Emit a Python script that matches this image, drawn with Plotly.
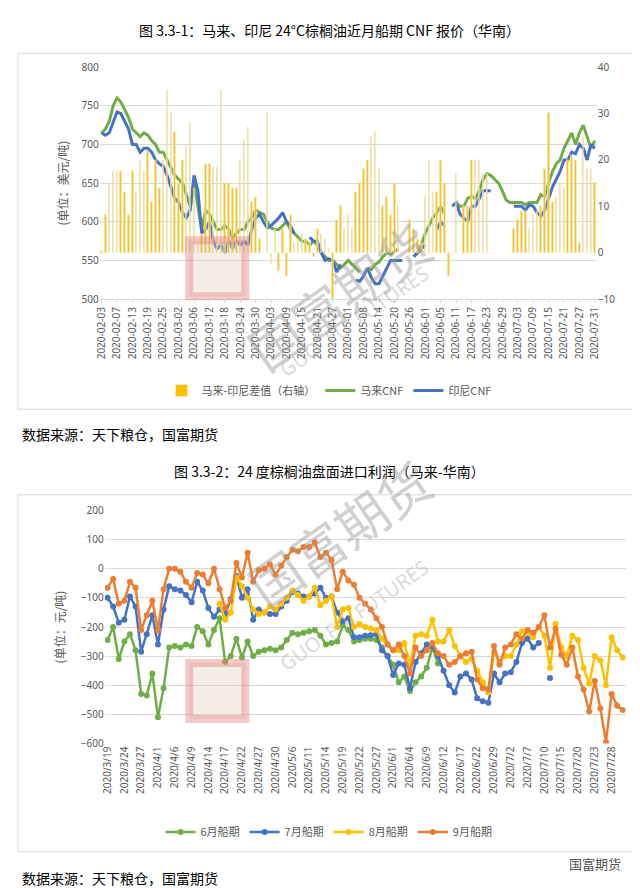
import plotly.graph_objects as go

# ---- chart 1: CNF quotes ----
dates1 = ['2020-02-03', '2020-02-07', '2020-02-13', '2020-02-19', '2020-02-25', '2020-03-02', '2020-03-06',
          '2020-03-12', '2020-03-18', '2020-03-24', '2020-03-30', '2020-04-03', '2020-04-09', '2020-04-15',
          '2020-04-21', '2020-04-27', '2020-05-01', '2020-05-08', '2020-05-14', '2020-05-20', '2020-05-26',
          '2020-06-01', '2020-06-05', '2020-06-11', '2020-06-17', '2020-06-23', '2020-06-29', '2020-07-03',
          '2020-07-09', '2020-07-15', '2020-07-21', '2020-07-27', '2020-07-31']
N = None
my_cnf = [715, 720, 730, 750, 760, 755, 745, 735, 720, 715,
          710, 715, 712, 705, 700, 690, 690, 680, 670, 660,
          655, 650, 635, 620, 650, 620, 590, 615, 610, 600,
          590, 590, 595, 590, 580, 585, 590, 590, 600, 605,
          615, 612, 610, 600, 592, 590, 590, 595, 600, 590,
          585, 580, 575, 575, 570, 575, 570, 560, 555, 550,
          550, 545, 540, 545, 550, 545, 540, 535, N, 540,
          538, 545, 548, 555, 560, 558, 562, 565, N, N,
          N, 555, 560, 570, 585, 595, 605, 612, 620, 610,
          N, N, 625, 620, 620, 630, 633, 630, 640, 655,
          662, 660, 655, 650, 640, 628, 625, 625, 625, 625,
          622, 625, 625, 625, 635, 632, 650, 665, 675, 680,
          695, 705, 715, 700, 715, 725, 710, 695, 705]
id_cnf = [715, 712, 715, 730, 742, 740, 730, 720, 700, 700,
          690, 695, 695, 690, 680, 675, 672, 660, 645, 630,
          625, 612, 605, 615, 660, 640, 585, 590, 600, 575,
          565, 570, 560, 575, 565, 575, 570, 575, 570, 590,
          605, 610, 600, 592, 595, 600, 605, 612, 600, 595,
          585, N, N, N, 580, 575, 575, 560, 550, 552,
          550, 535, 545, N, N, N, 525, 523, 530, 540,
          528, 520, 520, 530, 540, 550, 550, 550, 550, N,
          N, 555, 560, 565, 570, N, N, 590, 600, 595,
          N, 620, 625, 610, 605, 600, 620, 620, 630, 640,
          640, 640, N, N, N, N, N, 620, 620, 620,
          615, 622, 620, 612, 607, 615, 630, 645, 655, 665,
          680, 680, 690, 688, 700, 695, 680, 700, 695]
spread = [0.3, 8, 15, 17.5, 17.5, 17.5, 13, 8, 17.5, 13,
          20, 17.5, 22, 11, 20, 14, 20, 35, 30, 26,
          15, 20, 23, 28, 14, 2, 4, 19, 19, 18.5,
          18.5, 35, 15, 15, 14, 14, 20, 24, 27, 11,
          12, 3, 0, 30, -2.5, 5, -4, 5, -5, 8,
          2, 3, 4, 3, 2, -1, 5, 4, 3, 1,
          -10, 7, 10, 5, 8, 5, 13, 15, 18, 20,
          25, 26, 18, 10, 12, 8, 15, 10, 0, 0,
          7, 5, 3, 2, 12, 20, 13, 13, 20, 15,
          -5, 0, 17, 0, 10, 10, 20, 20, 20, 17,
          17, 0, 0, 0, 0, 0, 0, 5, 7, 9,
          9, 5, 8, 9, 10, 18, 30, 11, 12, 15,
          14, 20, 21, 20, 2, 25, 18, 18, 15]

# ---- chart 2: import profit ----
dates2 = ['2020/3/19', '2020/3/24', '2020/3/27', '2020/4/1', '2020/4/6', '2020/4/9', '2020/4/14', '2020/4/17',
          '2020/4/22', '2020/4/27', '2020/4/30', '2020/5/6', '2020/5/11', '2020/5/14', '2020/5/19', '2020/5/22',
          '2020/5/27', '2020/6/1', '2020/6/4', '2020/6/9', '2020/6/12', '2020/6/17', '2020/6/22', '2020/6/29',
          '2020/7/2', '2020/7/7', '2020/7/10', '2020/7/15', '2020/7/20', '2020/7/23', '2020/7/28']
jun = [-245, -200, -310, -250, -225, -280, -430, -435, -360, -510,
       -410, -270, -265, -270, -260, -265, -200, -215, -260, -210,
       -170, -320, -300, -240, -305, -250, -300, -285, -280, -275,
       -280, -270, -245, -220, -225, -220, -215, -210, -230, -260,
       -255, -250, -195, -210, -250, -245, -240, -240, -245, -270,
       -300, -330, -390, -370, -420, -390, -370, -340, -270, -325] + [N] * 33
jul = [-100, -130, -185, -175, -95, -130, -285, -225, -160, -260,
       -140, -60, -70, -75, -90, -115, -45, -75, -135, -165,
       -140, -155, -105, -25, -100, -70, -175, -140, -150, -155,
       -155, -130, -110, -80, -85, -95, -95, -85, -65, -100,
       -95, -150, -180, -170, -235, -235, -230, -228, -225, -280,
       -300, -365, -325, -330, -410, -320, -290, -260, -265, -300,
       -350, -400, -425, -370, -360, -380, -445, -455, -460, -360,
       -390, -360, -355, -320, -255, -240, -270, -255, N, -375] + [N] * 13
aug = [N] * 20 + [-120, -175, -150, -30, -60, -100, -140, -155, -150, -130,
                  -140, -120, -100, -75, -90, -110, -95, -65, -125, -110,
                  -95, -200, -140, -135, -200, -190, -200, -205, -210, -240,
                  -260, -280, -280, -255, -330, -230, -225, -230, -175, -250,
                  -250, -210, -265, -300, -320, -310, -350, -390, -425, -285,
                  -320, -300, -300, -260, -215, -220, -235, -200, -230, -340,
                  -190, -270, -300, -230, -245, -340, -395, -300, -315, -400,
                  -235, -280, -305]
sep = [-65, -35, -120, -110, -45, -65, -210, -160, -110, -210,
       -70, 0, 0, -10, -45, -65, -15, -20, -50, 0,
       -70, -135, -110, 20, -30, 55, -45, -5, 0, 15,
       -20, 10, 40, 65, 60, 75, 75, 90, 40, 55,
       30, -70, -10, -40, -55, -100, -120, -140, -170, -200,
       -260, -280, -260, -300, -360, -270, -300, -280, -255, -290,
       -300, -330, -320, -300, -290, -285, -380, -410, -415, -265,
       -330, -270, -260, -225, -240, -210, -220, -200, -160, -270,
       -205, -295, -330, -270, -370, -415, -490, -385, -480, -595,
       -430, -470, -485]

x1 = list(range(len(my_cnf)))
x2 = list(range(len(sep)))

def py(p):
    return 1 - p / 888

fig = go.Figure()
fig.add_trace(go.Bar(x=x1, y=spread, name='马来-印尼差值（右轴）', marker_color='#FFC000',
                     width=0.4, xaxis='x', yaxis='y2', legend='legend'))
fig.add_trace(go.Scatter(x=x1, y=my_cnf, name='马来CNF', mode='lines', line=dict(color='#70AD47', width=3),
                         xaxis='x', yaxis='y', legend='legend'))
fig.add_trace(go.Scatter(x=x1, y=id_cnf, name='印尼CNF', mode='lines', line=dict(color='#4472C4', width=3),
                         xaxis='x', yaxis='y', legend='legend'))

for name, vals, col in [('6月船期', jun, '#70AD47'), ('7月船期', jul, '#4472C4'),
                        ('8月船期', aug, '#FFC000'), ('9月船期', sep, '#ED7D31')]:
    fig.add_trace(go.Scatter(x=x2, y=vals, name=name, mode='lines+markers',
                             line=dict(color=col, width=2.5), marker=dict(size=6, color=col),
                             xaxis='x2', yaxis='y3', legend='legend2'))

tickf = dict(size=10, color='#595959', family='Noto Sans')
fig.update_layout(
    width=640, height=888, paper_bgcolor='white', plot_bgcolor='white',
    margin=dict(l=0, r=0, t=0, b=0), font=dict(family='Noto Sans CJK SC', color='#595959'),
    bargap=0,
    xaxis=dict(domain=[87 / 640, 592 / 640], range=[-0.5, 128.5], anchor='y',
               tickvals=list(range(0, 129, 4)), ticktext=dates1, tickangle=-90, tickfont=tickf,
               showgrid=False, showline=True, linecolor='#d9d9d9', ticks='outside', ticklen=3,
               tickcolor='#d9d9d9'),
    yaxis=dict(domain=[py(288), py(52)], range=[500, 800], dtick=50, tickfont=tickf,
               gridcolor='#d9d9d9', zeroline=False,
               title=dict(text='(单位：美元/吨)', font=dict(size=12, color='#595959'), standoff=10)),
    yaxis2=dict(overlaying='y', side='right', range=[-10, 40], dtick=10, tickfont=tickf,
                showgrid=False, zeroline=False, anchor='x'),
    xaxis2=dict(domain=[92.2 / 640, 621.3 / 640], range=[-0.5, 92.5], anchor='y3',
                tickvals=list(range(0, 91, 3)), ticktext=dates2, tickangle=-90, tickfont=tickf,
                showgrid=False, showline=False),
    yaxis3=dict(domain=[py(740), py(503)], range=[-600, 200], dtick=100, tickfont=tickf,
                gridcolor='#d9d9d9', zeroline=False, anchor='x2',
                title=dict(text='(单位：元/吨)', font=dict(size=12, color='#595959'), standoff=12)),
    legend=dict(orientation='h', x=0.5, xanchor='center', y=py(381), yanchor='middle',
                font=dict(size=11, color='#595959')),
    legend2=dict(orientation='h', x=0.5, xanchor='center', y=py(830), yanchor='middle',
                 font=dict(size=11, color='#595959')),
)

# frames around each chart
for y0, y1 in [(38, 400), (487, 850)]:
    fig.add_shape(type='rect', xref='paper', yref='paper', x0=4 / 640, x1=636 / 640,
                  y0=py(y1), y1=py(y0), line=dict(color='#d9d9d9', width=1))

texts = [
    (320, 14, '图 3.3-1：马来、印尼 24°C棕榈油近月船期 CNF 报价（华南）', 14, '#000000'),
    (6, 425, '数据来源：天下粮仓，国富期货', 14, '#000000'),
    (320, 463, '图 3.3-2：24 度棕榈油盘面进口利润（马来-华南）', 14, '#000000'),
    (6, 877, '数据来源：天下粮仓，国富期货', 14, '#000000'),
    (590, 862, '国富期货', 13, '#555555'),
]
for x, y, t, s, c in texts:
    fig.add_annotation(x=x / 640, y=py(y), xref='paper', yref='paper', text=t, showarrow=False,
                       xanchor='left' if x < 20 else 'center', yanchor='middle',
                       font=dict(size=s, color=c, family='Noto Sans CJK SC'))

# watermarks
for cy in [190, 620]:
    fig.add_annotation(x=330 / 640, y=py(cy), xref='paper', yref='paper', text='国富期货', showarrow=False,
                       textangle=-35, font=dict(size=52, color='rgba(150,150,150,0.45)', family='Noto Sans CJK SC'))
    fig.add_annotation(x=345 / 640, y=py(cy + 55), xref='paper', yref='paper', text='GUO  FU  FUTURES',
                       showarrow=False, textangle=-35,
                       font=dict(size=20, color='rgba(170,170,170,0.45)', family='Noto Sans'))
    fig.add_shape(type='rect', xref='paper', yref='paper', x0=178 / 640, x1=235 / 640,
                  y0=py(cy + 95), y1=py(cy + 38), line=dict(color='rgba(230,120,120,0.4)', width=8),
                  fillcolor='rgba(220,200,170,0.3)')

fig.write_html("out.html")
